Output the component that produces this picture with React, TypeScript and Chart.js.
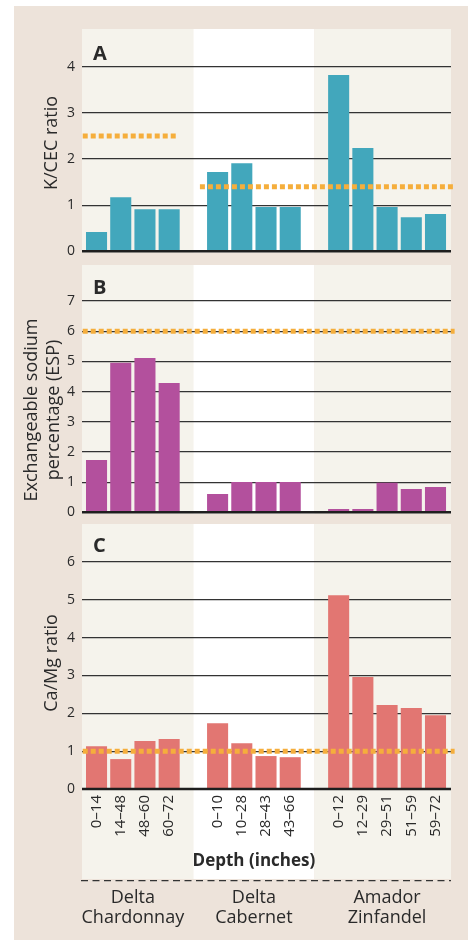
import React, { useEffect, useRef } from 'react';
import { Chart, registerables } from 'chart.js';

Chart.register(...registerables);

const FONT = '"Open Sans", "Noto Sans", sans-serif';
const TEXT = '#2a2a2a';
const ORANGE = '#f5ae3c';
const BEIGE = '#ede3da';
const PANEL = '#f5f3ec';

// ---- categories ----
const siteNames = [
  ['Delta', 'Chardonnay'],
  ['Delta', 'Cabernet'],
  ['Amador', 'Zinfandel'],
];
const depthChardonnay = ['0–14', '14–48', '48–60', '60–72'];
const depthCabernet = ['0–10', '10–28', '28–43', '43–66'];
const depthZinfandel = ['0–12', '12–29', '29–51', '51–59', '59–72'];

// ---- series values ----
const kcecRatio = [0.42, 1.17, 0.91, 0.91, 1.72, 1.91, 0.96, 0.96, 3.82, 2.24, 0.96, 0.74, 0.81];
const espPercent = [1.73, 4.95, 5.11, 4.28, 0.61, 1.0, 1.0, 1.0, 0.11, 0.11, 0.98, 0.77, 0.84];
const caMgRatio = [1.13, 0.79, 1.27, 1.32, 1.74, 1.21, 0.87, 0.84, 5.12, 2.96, 2.22, 2.14, 1.95];

// ---- tick labels ----
const kcecTicks = [0, 1, 2, 3, 4];
const espTicks = [0, 1, 2, 3, 4, 5, 6, 7];
const caMgTicks = [0, 1, 2, 3, 4, 5, 6];

// ---- reference thresholds: [first site, last site, value] ----
const kcecThresholds = [[0, 0, 2.5], [1, 2, 1.4]];
const espThresholds = [[0, 2, 6]];
const caMgThresholds = [[0, 2, 1]];

// ---- slot layout derived from categories (one empty slot between sites) ----
const depthGroups = [depthChardonnay, depthCabernet, depthZinfandel];
const slots: number[] = [];
const depthLabels: string[] = [];
const groupRanges: [number, number][] = [];
{
  let s = 0;
  depthGroups.forEach((g) => {
    const start = s;
    g.forEach((l) => {
      slots.push(s);
      depthLabels.push(l);
      s++;
    });
    groupRanges.push([start, s - 1]);
    s++;
  });
}
const xMin = slots[0] - 0.6;
const xMax = slots[slots.length - 1] + 0.64;

function segStart(g: number) {
  return g === 0 ? xMin + 0.03 : groupRanges[g][0] - 0.73;
}
function segEnd(g: number) {
  return g === groupRanges.length - 1 ? xMax + 0.15 : groupRanges[g][1] + 0.3;
}

type Spec = {
  top: number;
  height: number;
  padTop: number;
  padBottom: number;
  xAxisHeight?: number;
  yMax: number;
  ticks: number[];
  values: number[];
  color: string;
  thresholds: number[][];
  title: string[];
  titleX: number;
  titleY: number;
  letter: string;
  letterY: number;
  bottom?: boolean;
};

const specs: Spec[] = [
  {
    top: 0, height: 258, padTop: 29, padBottom: 6.7, yMax: 4.82,
    ticks: kcecTicks, values: kcecRatio, color: '#42a7bc', thresholds: kcecThresholds,
    title: ['K/CEC ratio'], titleX: 52, titleY: 143, letter: 'A', letterY: 59.5,
  },
  {
    top: 258, height: 260, padTop: 7, padBottom: 5.7, yMax: 8.19,
    ticks: espTicks, values: espPercent, color: '#b3509d', thresholds: espThresholds,
    title: ['Exchangeable sodium', 'percentage (ESP)'], titleX: 43, titleY: 410, letter: 'B', letterY: 294.3,
  },
  {
    top: 518, height: 422, padTop: 6, padBottom: 0, xAxisHeight: 151, yMax: 7.0,
    ticks: caMgTicks, values: caMgRatio, color: '#e27672', thresholds: caMgThresholds,
    title: ['Ca/Mg ratio'], titleX: 52, titleY: 663, letter: 'C', letterY: 552.3, bottom: true,
  },
];

function buildConfig(p: Spec): any {
  const datasets: any[] = [
    {
      type: 'bar',
      data: slots.map((s, i) => ({ x: s, y: p.values[i] })),
      backgroundColor: p.color,
      barPercentage: 0.87,
      categoryPercentage: 1,
      borderWidth: 0,
      order: 2,
    },
    ...p.thresholds.map(([g0, g1, v]) => ({
      type: 'line',
      data: [
        { x: segStart(g0), y: v },
        { x: segEnd(g1), y: v },
      ],
      borderColor: ORANGE,
      borderWidth: 5,
      borderDash: [5, 3],
      borderCapStyle: 'butt',
      pointRadius: 0,
      fill: false,
      tension: 0,
      order: 1,
      clip: { left: 2, right: 5, top: 5, bottom: 5 },
    })),
  ];

  const decor = {
    id: 'decor' + p.letter,
    beforeDraw(chart: any) {
      const { ctx, chartArea } = chart;
      const xs = chart.scales.x;
      const bounds = [chartArea.left];
      for (let g = 0; g < groupRanges.length - 1; g++) {
        bounds.push(xs.getPixelForValue(groupRanges[g][1] + 1));
      }
      bounds.push(chartArea.right);
      const bottom = p.bottom ? 879 - p.top : chartArea.bottom + 1.2;
      ctx.save();
      for (let i = 0; i < bounds.length - 1; i++) {
        ctx.fillStyle = i % 2 === 0 ? PANEL : '#ffffff';
        ctx.fillRect(bounds[i], chartArea.top, bounds[i + 1] - bounds[i], bottom - chartArea.top);
      }
      ctx.restore();
    },
    afterDatasetsDraw(chart: any) {
      const { ctx, chartArea } = chart;
      const y0 = chart.scales.y.getPixelForValue(0);
      ctx.save();
      ctx.strokeStyle = '#1e1e1e';
      ctx.lineWidth = 2.4;
      ctx.beginPath();
      ctx.moveTo(chartArea.left, y0);
      ctx.lineTo(chartArea.right, y0);
      ctx.stroke();
      ctx.restore();
    },
    afterDraw(chart: any) {
      const { ctx, chartArea } = chart;
      const xs = chart.scales.x;
      ctx.save();
      ctx.fillStyle = TEXT;
      // panel letter
      ctx.font = `bold 20px ${FONT}`;
      ctx.textAlign = 'left';
      ctx.textBaseline = 'alphabetic';
      ctx.fillText(p.letter, 93, p.letterY - p.top);
      // y title
      ctx.font = `18px ${FONT}`;
      ctx.translate(p.titleX, p.titleY - p.top);
      ctx.rotate(-Math.PI / 2);
      ctx.textAlign = 'center';
      ctx.textBaseline = 'middle';
      const lh = 22;
      p.title.forEach((line, i) => {
        ctx.fillText(line, 0, (i - (p.title.length - 1) / 2) * lh);
      });
      ctx.restore();

      if (p.bottom) {
        ctx.save();
        ctx.fillStyle = TEXT;
        const mid = groupRanges[1];
        ctx.font = `bold 17px ${FONT}`;
        ctx.textAlign = 'center';
        ctx.textBaseline = 'alphabetic';
        ctx.fillText('Depth (inches)', xs.getPixelForValue((mid[0] + mid[1]) / 2), 866 - p.top);
        // dashed separator
        ctx.strokeStyle = '#333';
        ctx.lineWidth = 1.3;
        ctx.setLineDash([7, 4.5]);
        ctx.beginPath();
        ctx.moveTo(chartArea.left - 1, 880.7 - p.top);
        ctx.lineTo(chartArea.right, 880.7 - p.top);
        ctx.stroke();
        ctx.setLineDash([]);
        // site names
        ctx.font = `18px ${FONT}`;
        siteNames.forEach((lines, g) => {
          const cx = xs.getPixelForValue((groupRanges[g][0] + groupRanges[g][1]) / 2);
          lines.forEach((l, i) => ctx.fillText(l, cx, 902.7 - p.top + i * 20));
        });
        ctx.restore();
      }
    },
  };

  return {
    type: 'bar',
    data: { datasets },
    options: {
      responsive: false,
      animation: false,
      events: [],
      layout: { padding: { left: 0, right: 18, top: p.padTop, bottom: p.padBottom } },
      plugins: { legend: { display: false }, tooltip: { enabled: false } },
      scales: {
        x: {
          type: 'linear',
          min: xMin,
          max: xMax,
          offset: false,
          display: !!p.bottom,
          grid: { display: false, drawTicks: false },
          border: { display: false },
          afterBuildTicks: (axis: any) => {
            axis.ticks = slots.map((v) => ({ value: v }));
          },
          afterFit: (axis: any) => {
            if (p.xAxisHeight) axis.height = p.xAxisHeight;
            axis.paddingLeft = 0;
            axis.paddingRight = 0;
            axis.paddingTop = 0;
            axis.paddingBottom = 0;
          },
          ticks: {
            autoSkip: false,
            minRotation: 90,
            maxRotation: 90,
            padding: 6,
            color: TEXT,
            font: { family: FONT, size: 15 },
            callback: (_v: any, i: number) => depthLabels[i],
          },
        },
        y: {
          min: 0,
          max: p.yMax,
          afterBuildTicks: (axis: any) => {
            axis.ticks = p.ticks.map((v) => ({ value: v }));
          },
          afterFit: (axis: any) => {
            axis.width = 82;
            axis.paddingTop = 0;
            axis.paddingBottom = 0;
            axis.paddingLeft = 0;
            axis.paddingRight = 0;
          },
          grid: {
            color: '#333333',
            lineWidth: (c: any) => (c.tick && c.tick.value === 0 ? 0 : 1.2),
            drawTicks: false,
          },
          border: { display: false },
          ticks: {
            padding: 7,
            color: TEXT,
            font: { family: FONT, size: 14 },
          },
        },
      },
    },
    plugins: [decor],
  };
}

function Panel({ spec }: { spec: Spec }) {
  const ref = useRef<HTMLCanvasElement>(null);
  useEffect(() => {
    const chart = new Chart(ref.current as HTMLCanvasElement, buildConfig(spec));
    return () => chart.destroy();
  }, [spec]);
  return (
    <canvas
      ref={ref}
      width={469}
      height={spec.height}
      style={{ position: 'absolute', left: 0, top: spec.top, width: 469, height: spec.height }}
    />
  );
}

export default function App() {
  return (
    <div style={{ position: 'absolute', left: 0, top: 0, width: 469, height: 940, background: '#ffffff', overflow: 'hidden' }}>
      <div style={{ position: 'absolute', left: 14, top: 6, width: 454, height: 934, background: BEIGE }} />
      {specs.map((s) => (
        <Panel key={s.letter} spec={s} />
      ))}
    </div>
  );
}
